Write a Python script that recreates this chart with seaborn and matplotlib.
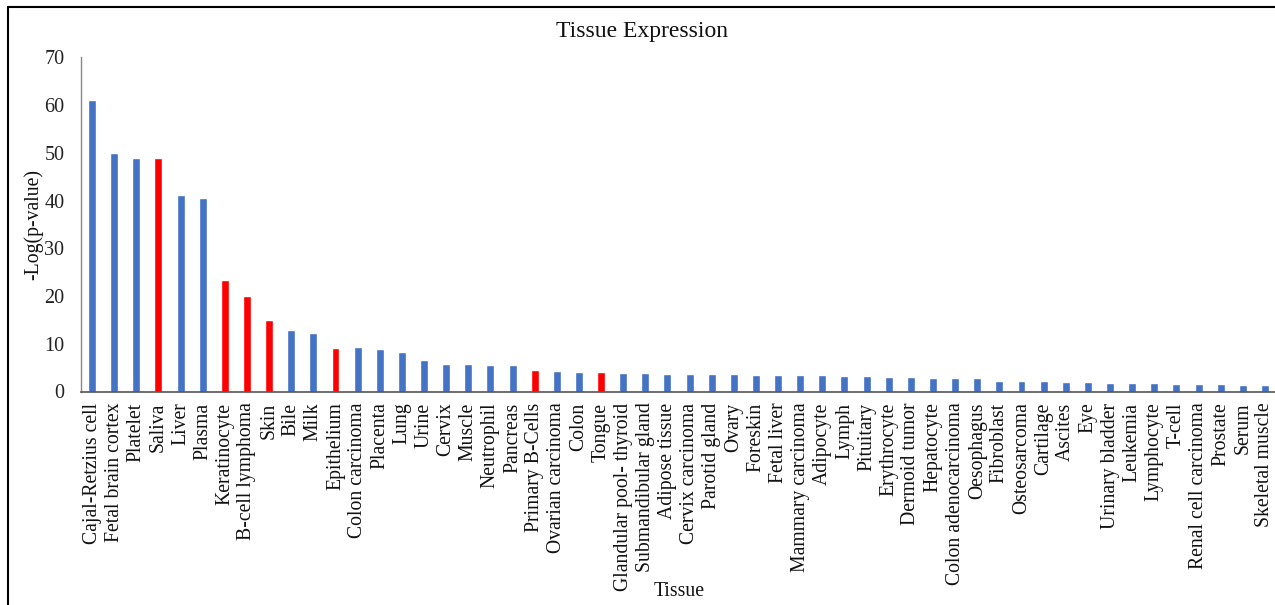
import matplotlib
matplotlib.use("Agg")
import matplotlib.pyplot as plt
from matplotlib.lines import Line2D
import seaborn as sns
import pandas as pd

tissues = [
    "Cajal-Retzius cell", "Fetal brain cortex", "Platelet", "Saliva", "Liver",
    "Plasma", "Keratinocyte", "B-cell lymphoma", "Skin", "Bile", "Milk",
    "Epithelium", "Colon carcinoma", "Placenta", "Lung", "Urine", "Cervix",
    "Muscle", "Neutrophil", "Pancreas", "Primary B-Cells", "Ovarian carcinoma",
    "Colon", "Tongue", "Glandular pool- thyroid", "Submandibular gland",
    "Adipose tissue", "Cervix carcinoma", "Parotid gland", "Ovary", "Foreskin",
    "Fetal liver", "Mammary carcinoma", "Adipocyte", "Lymph", "Pituitary",
    "Erythrocyte", "Dermoid tumor", "Hepatocyte", "Colon adenocarcinoma",
    "Oesophagus", "Fibroblast", "Osteosarcoma", "Cartilage", "Ascites", "Eye",
    "Urinary bladder", "Leukemia", "Lymphocyte", "T-cell",
    "Renal cell carcinoma", "Prostate", "Serum", "Skeletal muscle",
]
neg_log_p = [
    61.0, 49.9, 49.0, 49.0, 41.2, 40.5, 23.4, 20.0, 15.0, 12.9, 12.3,
    9.2, 9.3, 8.8, 8.2, 6.6, 5.8, 5.8, 5.6, 5.6, 4.5, 4.3,
    4.1, 4.1, 3.85, 3.85, 3.6, 3.6, 3.6, 3.6, 3.4, 3.4, 3.4, 3.4, 3.2, 3.2,
    3.0, 3.0, 2.8, 2.8, 2.8, 2.3, 2.1, 2.1, 1.9, 1.9, 1.7, 1.7, 1.7, 1.5,
    1.5, 1.5, 1.3, 1.3,
]
highlighted = ["Saliva", "Keratinocyte", "B-cell lymphoma", "Skin",
               "Epithelium", "Primary B-Cells", "Tongue"]

df = pd.DataFrame({"Tissue": tissues, "value": neg_log_p})
df["group"] = ["hl" if t in highlighted else "base" for t in tissues]
palette = {"base": "#4472C4", "hl": "#FF0000"}

sns.set_theme(style="white")
plt.rcParams["font.family"] = ["Liberation Serif", "DejaVu Serif"]

W, H = 1275, 605
fig = plt.figure(figsize=(W / 100, H / 100), dpi=100)
ax = fig.add_axes([81 / W, 1 - 391.5 / H, (1276 - 81) / W, (391.5 - 57.3) / H])

sns.barplot(data=df, x="Tissue", y="value", hue="group", palette=palette,
            order=tissues, dodge=False, width=0.36, legend=False, ax=ax,
            saturation=1)

ax.set_ylim(0, 70)
ax.set_xlim(-0.5, len(tissues) - 0.5)
ax.set_yticks(range(0, 71, 10))
ax.tick_params(axis="y", labelsize=14.5, length=0, pad=12, colors="#222222")
ax.tick_params(axis="x", labelsize=14.2, length=0, pad=8, rotation=90, colors="#111111")

for side in ["top", "right"]:
    ax.spines[side].set_visible(False)
ax.spines["left"].set_color("#888888")
ax.spines["left"].set_linewidth(1.0)
ax.spines["bottom"].set_color("#555555")
ax.spines["bottom"].set_linewidth(1.2)

ax.set_ylabel("")
ax.set_xlabel("")
fig.text(33 / W, 1 - 225 / H, "-Log(p-value)", ha="center", va="center",
         rotation=90, fontsize=14.2, color="#111111")
fig.text(679 / W, 1 - 592 / H, "Tissue", ha="center", va="center",
         fontsize=14.2, color="#111111")
fig.text(642 / W, 1 - 31 / H, "Tissue Expression", ha="center",
         va="center", fontsize=17, color="#111111")

# outer frame (top and left edges)
fig.add_artist(Line2D([7.5 / W, 1], [1 - 7 / H, 1 - 7 / H],
                      transform=fig.transFigure, color="black", lw=1.5))
fig.add_artist(Line2D([7.5 / W, 7.5 / W], [0, 1 - 7 / H],
                      transform=fig.transFigure, color="black", lw=1.5))

fig.savefig("out.png", dpi=100)
